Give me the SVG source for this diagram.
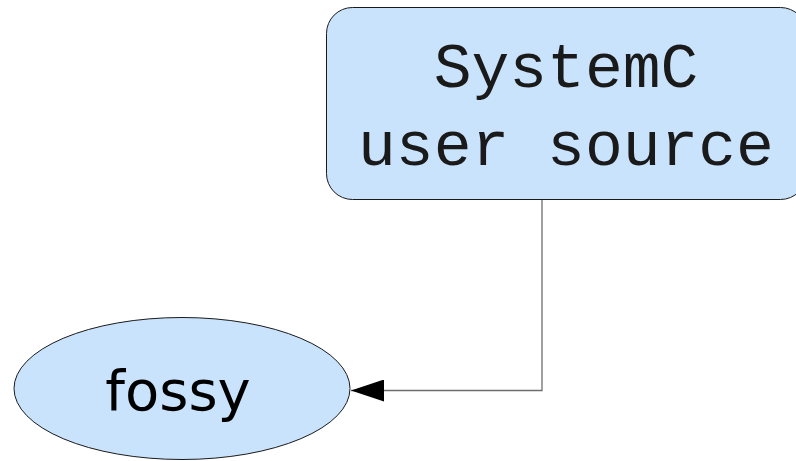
<svg xmlns="http://www.w3.org/2000/svg" width="796" height="461" viewBox="0 0 796 461">
  <defs>
    <style>
      .node { fill: #c9e3fd; stroke: #1a1a1a; stroke-width: 1; }
      .edge { fill: none; stroke: #6e6e6e; stroke-width: 1.3; }
      .mono { font-family: "Liberation Mono", "Courier New", monospace; font-size: 63px; fill: #1a1a1a; text-anchor: middle; }
      .sans { font-family: "DejaVu Sans", Verdana, sans-serif; font-size: 56px; fill: #000; text-anchor: middle; }
    </style>
    <marker id="arrow" viewBox="0 0 33 22" refX="33" refY="11" markerWidth="33" markerHeight="22" markerUnits="userSpaceOnUse" orient="auto">
      <path d="M0,0 L33,11 L0,22 Z" fill="#000"/>
    </marker>
  </defs>

  <g id="connectors">
    <path class="edge" d="M542,199 L542,390.5 L351,390.5" marker-end="url(#arrow)"/>
  </g>

  <g id="systemc-source">
    <rect class="node" x="326.5" y="7.5" width="480" height="192" rx="26" ry="26"/>
    <text class="mono" x="566" y="87">SystemC</text>
    <text class="mono" x="566" y="165">user source</text>
  </g>

  <g id="fossy">
    <ellipse class="node" cx="182" cy="388.5" rx="168" ry="71"/>
    <text class="sans" x="178" y="410">fossy</text>
  </g>
</svg>
